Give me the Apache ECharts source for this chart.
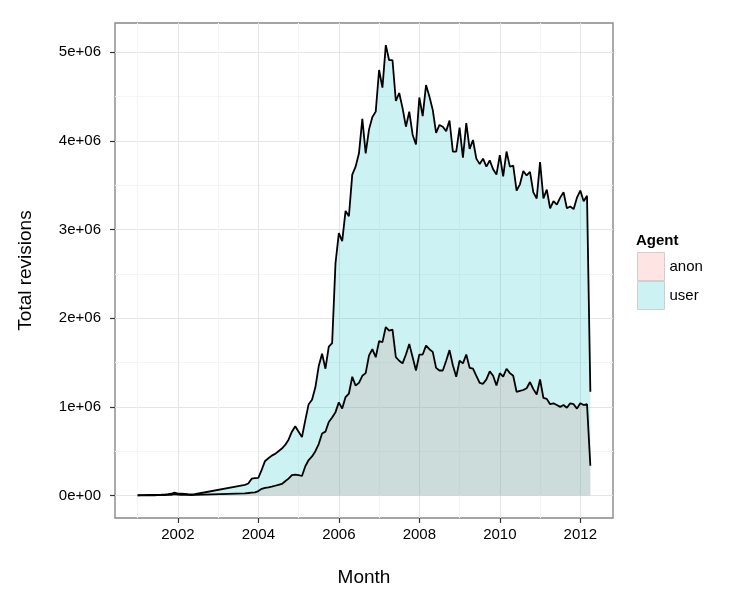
<!DOCTYPE html>
<html><head><meta charset="utf-8">
<script src="https://cdn.jsdelivr.net/npm/echarts@6/dist/echarts.min.js"></script>
<style>html,body{margin:0;padding:0;background:#fff}#c{width:750px;height:600px}</style>
</head><body><div id="c"></div>
<script>
const months = [
'2001-01','2001-02','2001-03','2001-04','2001-05','2001-06','2001-07','2001-08','2001-09','2001-10','2001-11','2001-12',
'2002-01','2002-02','2002-03','2002-04','2002-05','2002-06',
'2003-09','2003-10','2003-11','2003-12',
'2004-01','2004-02','2004-03','2004-04','2004-05','2004-06','2004-07','2004-08','2004-09','2004-10','2004-11','2004-12',
'2005-01','2005-02','2005-03','2005-04','2005-05','2005-06','2005-07','2005-08','2005-09','2005-10','2005-11','2005-12',
'2006-01','2006-02','2006-03','2006-04','2006-05','2006-06','2006-07','2006-08','2006-09','2006-10','2006-11','2006-12',
'2007-01','2007-02','2007-03','2007-04','2007-05','2007-06','2007-07','2007-08','2007-09','2007-10','2007-11','2007-12',
'2008-01','2008-02','2008-03','2008-04','2008-05','2008-06','2008-07','2008-08','2008-09','2008-10','2008-11','2008-12',
'2009-01','2009-02','2009-03','2009-04','2009-05','2009-06','2009-07','2009-08','2009-09','2009-10','2009-11','2009-12',
'2010-01','2010-02','2010-03','2010-04','2010-05','2010-06','2010-07','2010-08','2010-09','2010-10','2010-11','2010-12',
'2011-01','2011-02','2011-03','2011-04','2011-05','2011-06','2011-07','2011-08','2011-09','2011-10','2011-11','2011-12',
'2012-01','2012-02','2012-03','2012-04'
];
const userValues = [
3000,4000,5000,6000,6000,7000,8000,9000,11000,14000,20000,33000,
22000,20000,17000,14000,12000,14000,
120000,135000,190000,195000,
200000,290000,390000,420000,450000,470000,500000,530000,570000,630000,720000,780000,
720000,660000,850000,1030000,1080000,1220000,1460000,1600000,1430000,1680000,1720000,2620000,
2960000,2870000,3210000,3150000,3620000,3710000,3860000,4250000,3860000,4130000,4270000,4330000,
4800000,4600000,5080000,4910000,4910000,4450000,4540000,4370000,4160000,4330000,4070000,3960000,
4490000,4280000,4630000,4500000,4350000,4090000,4180000,4160000,4110000,4230000,3880000,3880000,
4150000,3810000,4200000,3910000,4010000,3800000,3740000,3800000,3710000,3780000,3680000,3620000,
3840000,3600000,3880000,3710000,3720000,3440000,3510000,3660000,3610000,3650000,3420000,3350000,
3760000,3350000,3450000,3240000,3320000,3280000,3360000,3420000,3240000,3260000,3230000,3360000,
3440000,3320000,3380000,1170000
];
const anonValues = [
1000,1500,2000,2500,3000,3000,3500,4000,5000,6000,8000,15000,
9000,8000,7000,6000,5000,6000,
25000,28000,32000,36000,
50000,75000,85000,92000,100000,110000,120000,130000,160000,190000,230000,235000,
230000,220000,330000,400000,440000,500000,580000,700000,720000,830000,880000,940000,
1050000,980000,1110000,1150000,1340000,1240000,1270000,1350000,1380000,1580000,1650000,1560000,
1740000,1730000,1900000,1860000,1870000,1560000,1520000,1490000,1590000,1710000,1560000,1410000,
1590000,1590000,1690000,1650000,1620000,1440000,1410000,1410000,1520000,1640000,1470000,1340000,
1520000,1490000,1590000,1440000,1430000,1350000,1270000,1260000,1310000,1400000,1350000,1240000,
1380000,1340000,1430000,1380000,1350000,1170000,1180000,1190000,1210000,1280000,1200000,1140000,
1310000,1100000,1090000,1030000,1040000,1020000,1000000,1020000,990000,1040000,1030000,980000,
1040000,1020000,1030000,335000
];
const seriesNames = ['anon', 'user'];
const xTickYears = [2002, 2004, 2006, 2008, 2010, 2012];
const xMinorYears = [2001, 2003, 2005, 2007, 2009, 2011];
const yTicks = [0, 1000000, 2000000, 3000000, 4000000, 5000000];
const yMinor = [500000, 1500000, 2500000, 3500000, 4500000];

function toYear(s) { const p = s.split('-').map(Number); return p[0] + (p[1] - 1) / 12; }
function sci(v) {
  if (v === 0) return '0e+00';
  const e = Math.floor(Math.log10(Math.abs(v)));
  const m = Math.round(v / Math.pow(10, e) * 100) / 100;
  return m + 'e+' + (e < 10 ? '0' : '') + e;
}
const xs = months.map(toYear);
const anonData = xs.map((x, i) => [x, anonValues[i]]);
const userData = xs.map((x, i) => [x, userValues[i]]);

const FONT = 'Liberation Sans, Arial, Helvetica, sans-serif';
const XMIN = 2000.4375, XMAX = 2012.8125, YMIN = -253800, YMAX = 5329800;
const majorLine = { show: true, lineStyle: { color: '#E5E5E5', width: 1 } };
const minorLine = { show: true, lineStyle: { color: '#F5F5F5', width: 1 } };

const chart = echarts.init(document.getElementById('c'), null, { renderer: 'canvas' });
chart.setOption({
  animation: false,
  backgroundColor: '#fff',
  textStyle: { fontFamily: FONT },
  title: { text: 'Agent', left: 636, top: 233, padding: 0,
    textStyle: { fontFamily: FONT, fontSize: 15, fontWeight: 'bold', color: '#000' } },
  legend: {
    orient: 'vertical', left: 637, top: 252, padding: 0, itemGap: 0,
    itemWidth: 27, itemHeight: 28, selectedMode: false,
    textStyle: { fontFamily: FONT, fontSize: 15, color: '#000' },
    data: [
      { name: 'anon', icon: 'rect', itemStyle: { color: '#FEE4E2', borderColor: '#CFCFCF', borderWidth: 1 } },
      { name: 'user', icon: 'rect', itemStyle: { color: '#CCF2F3', borderColor: '#CFCFCF', borderWidth: 1 } }
    ]
  },
  grid: { left: 115, right: 137, top: 23, bottom: 82, show: true, borderColor: '#888888', borderWidth: 1.4, backgroundColor: 'transparent' },
  xAxis: [
    { type: 'value', min: XMIN, max: XMAX, name: 'Month', nameLocation: 'middle', nameGap: 50,
      nameTextStyle: { fontFamily: FONT, fontSize: 19, color: '#000' },
      axisLine: { show: false, onZero: false },
      axisTick: { show: true, length: 5, lineStyle: { color: '#333', width: 1.2 }, customValues: xTickYears },
      axisLabel: { show: true, margin: 9, fontSize: 15, color: '#000', fontFamily: FONT, customValues: xTickYears,
        formatter: v => String(Math.round(v)) },
      splitLine: majorLine },
    { type: 'value', min: XMIN, max: XMAX, position: 'bottom',
      axisLine: { show: false, onZero: false }, axisLabel: { show: false },
      axisTick: { show: false, customValues: xMinorYears },
      splitLine: minorLine }
  ],
  yAxis: [
    { type: 'value', min: YMIN, max: YMAX, name: 'Total revisions', nameLocation: 'middle', nameGap: 80,
      nameTextStyle: { fontFamily: FONT, fontSize: 19, color: '#000' },
      axisLine: { show: false, onZero: false },
      axisTick: { show: true, length: 5, lineStyle: { color: '#333', width: 1.2 }, customValues: yTicks },
      axisLabel: { show: true, margin: 14, fontSize: 15, color: '#000', fontFamily: FONT, customValues: yTicks,
        formatter: v => sci(v) },
      splitLine: majorLine },
    { type: 'value', min: YMIN, max: YMAX, position: 'left',
      axisLine: { show: false, onZero: false }, axisLabel: { show: false },
      axisTick: { show: false, customValues: yMinor },
      splitLine: minorLine }
  ],
  series: [
    { name: seriesNames[0], type: 'line', data: anonData, xAxisIndex: 0, yAxisIndex: 0,
      symbol: 'none', smooth: false, color: '#F8766D',
      lineStyle: { color: '#000', width: 1.8 },
      areaStyle: { color: 'rgba(248,118,109,0.2)', opacity: 1, origin: 0 } },
    { name: seriesNames[1], type: 'line', data: userData, xAxisIndex: 0, yAxisIndex: 0,
      symbol: 'none', smooth: false, color: '#00BFC4',
      lineStyle: { color: '#000', width: 1.8 },
      areaStyle: { color: 'rgba(0,191,196,0.2)', opacity: 1, origin: 0 } }
  ]
});
</script>
</body></html>
